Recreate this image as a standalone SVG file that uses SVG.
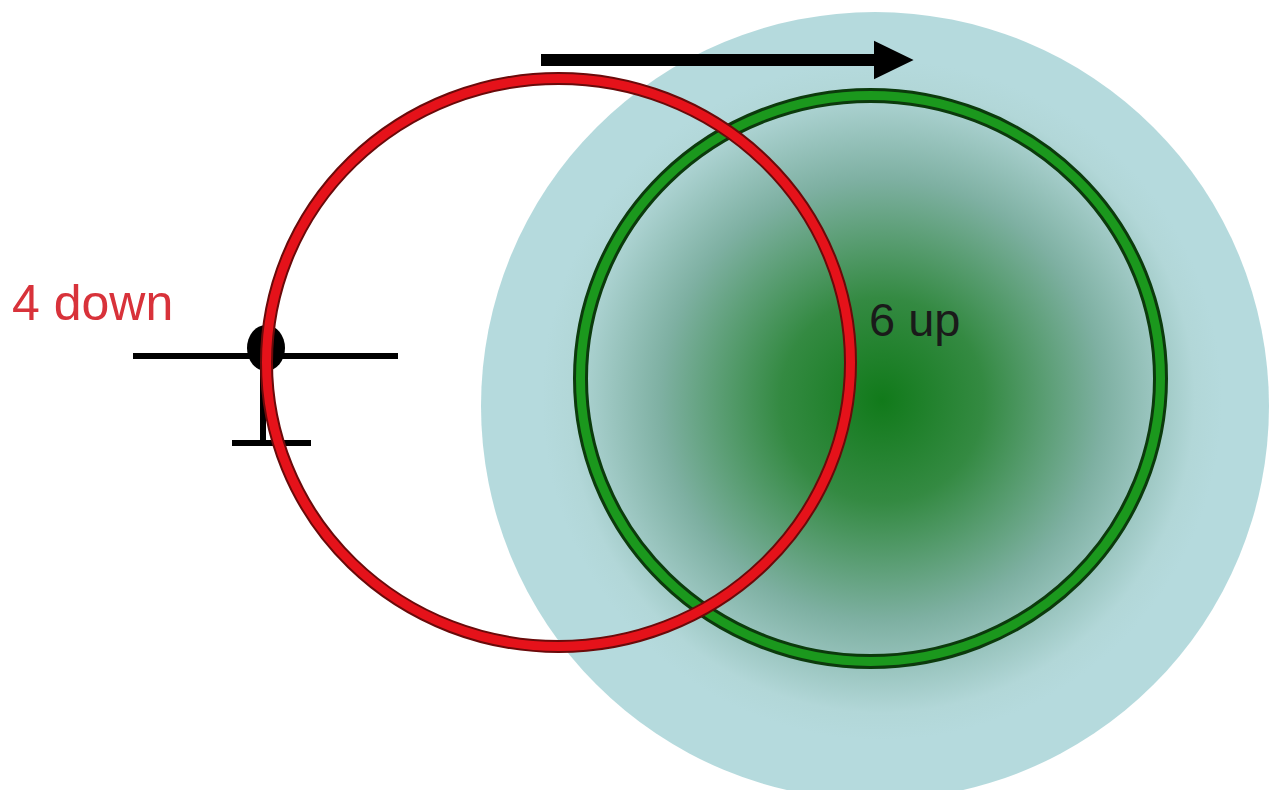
<svg xmlns="http://www.w3.org/2000/svg" width="1269" height="790" viewBox="0 0 1269 790">
<style>
.lbl{font-family:"Liberation Sans",Arial,sans-serif}
.blk{stroke:#000;stroke-linecap:butt;fill:none}
</style>
<defs>
<radialGradient id="glow" gradientUnits="userSpaceOnUse" cx="882" cy="400" r="340">
<stop offset="0" stop-color="#117a1a"/>
<stop offset="0.3" stop-color="#348a42"/>
<stop offset="0.65" stop-color="#7eb0a2"/>
<stop offset="0.92" stop-color="#b2d7d8"/>
<stop offset="1" stop-color="#b5dadd"/>
</radialGradient>
<marker id="ah" markerWidth="4" markerHeight="4" refX="0.5" refY="2" orient="auto" markerUnits="strokeWidth" viewBox="0 0 4 4">
<path d="M0,0.4 L3.3,2 L0,3.6 Z" fill="#000"/>
</marker>
</defs>
<rect width="1269" height="790" fill="#fff"/>
<g id="field">
<circle cx="875" cy="406" r="394" fill="url(#glow)"/>
</g>
<g id="green-circle">
<ellipse cx="870.5" cy="378.5" rx="290" ry="283" fill="none" stroke="#0c3a0c" stroke-width="15"/>
<ellipse cx="870.5" cy="378.5" rx="290" ry="283" fill="none" stroke="#1b981d" stroke-width="9"/>
</g>
<g id="marker">
<line class="blk" x1="263" y1="355" x2="263" y2="443" stroke-width="6"/>
<line class="blk" x1="232" y1="443" x2="311" y2="443" stroke-width="6"/>
<line class="blk" x1="133" y1="356" x2="398" y2="356" stroke-width="6"/>
<ellipse cx="266" cy="348" rx="19" ry="23" fill="#000"/>
</g>
<g id="red-circle">
<ellipse cx="558.5" cy="362.5" rx="292" ry="284" fill="none" stroke="#6a0a0a" stroke-width="13"/>
<ellipse cx="558.5" cy="362.5" rx="292" ry="284" fill="none" stroke="#e5121a" stroke-width="9"/>
</g>
<g id="connectors">
<line class="blk" x1="541" y1="60" x2="880" y2="60" stroke-width="12" marker-end="url(#ah)"/>
</g>
<g id="labels">
<text class="lbl" x="12" y="320" font-size="50" fill="#d8323a">4 down</text>
<text class="lbl" x="869" y="336" font-size="47" fill="#1a1a1a">6 up</text>
</g>
</svg>
